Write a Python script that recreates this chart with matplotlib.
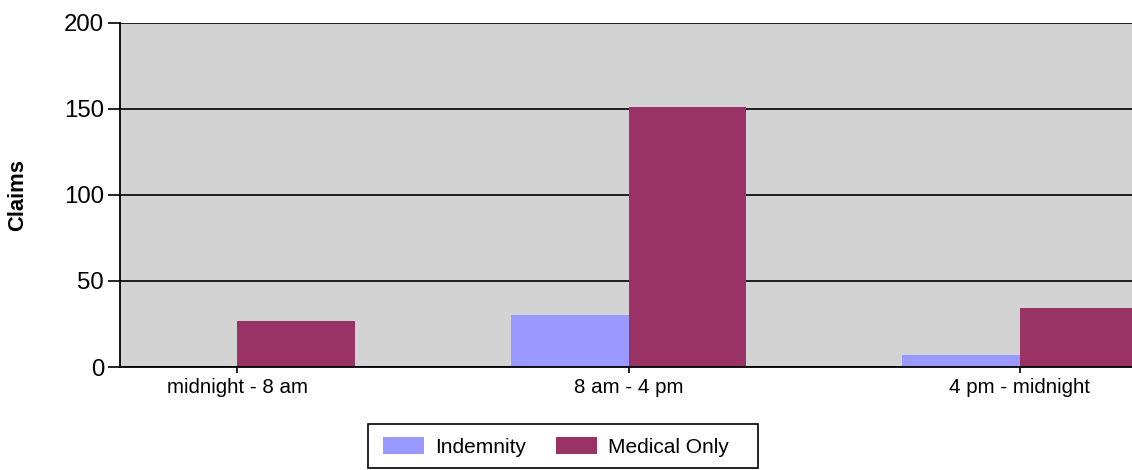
import numpy as np
import matplotlib.pyplot as plt
from matplotlib.patches import Rectangle

plt.rcParams['font.family'] = ['Liberation Sans', 'DejaVu Sans']

# claims by shift
shifts = ['midnight - 8 am', '8 am - 4 pm', '4 pm - midnight']
indemnity = [0, 30, 7]
medical_only = [27, 151, 34]

series_names = ['Indemnity', 'Medical Only']
series_colors = ['#9999FF', '#993366']

W, H = 1132, 470
fig = plt.figure(figsize=(W / 100, H / 100), dpi=100)

# axes runs a little past the right edge of the figure
left_px, right_px = 120, 1137
top_px, bottom_px = 22.7, 367
ax = fig.add_axes([left_px / W, 1 - bottom_px / H,
                   (right_px - left_px) / W, (bottom_px - top_px) / H])

x = np.arange(len(shifts))
width = 0.3
ax.bar(x - width / 2, indemnity, width, color=series_colors[0],
       label=series_names[0], zorder=3)
ax.bar(x + width / 2, medical_only, width, color=series_colors[1],
       label=series_names[1], zorder=3)

ax.set_facecolor('#D3D3D3')
ax.set_xlim(-0.3, 2.3)
ax.set_ylim(0, 200)
ax.set_yticks([0, 50, 100, 150, 200])
ax.set_xticks(x)
ax.set_xticklabels(shifts, fontsize=14.8)
ax.tick_params(axis='y', labelsize=17.3, length=8.5, width=1.2, pad=3)
ax.tick_params(axis='x', length=4, width=1.2, pad=4)

ax.yaxis.grid(True, color='#111111', linewidth=1.3, zorder=1)
ax.set_axisbelow(True)
for side in ['top', 'right']:
    ax.spines[side].set_visible(False)
for side in ['left', 'bottom']:
    ax.spines[side].set_linewidth(1.3)
    ax.spines[side].set_zorder(4)

ax.set_ylabel('Claims', fontsize=15.8, fontweight='bold')
ax.yaxis.set_label_coords(-92 / (right_px - left_px), 0.5)

# fixed-size legend box with the entries sitting towards its left side
fig.patches.append(Rectangle((368 / W, 1 - 468 / H), 390 / W, 44 / H,
                             transform=fig.transFigure, facecolor='white',
                             edgecolor='black', linewidth=1.2, zorder=1))
leg = fig.legend(loc='center left', bbox_to_anchor=(383 / W, 1 - 447 / H),
                 ncol=2, fontsize=15, frameon=False, borderpad=0,
                 borderaxespad=0, handlelength=1.97, handleheight=0.9,
                 handletextpad=0.53, columnspacing=1.45)
leg.set_zorder(2)

fig.savefig('out.png', dpi=100)
